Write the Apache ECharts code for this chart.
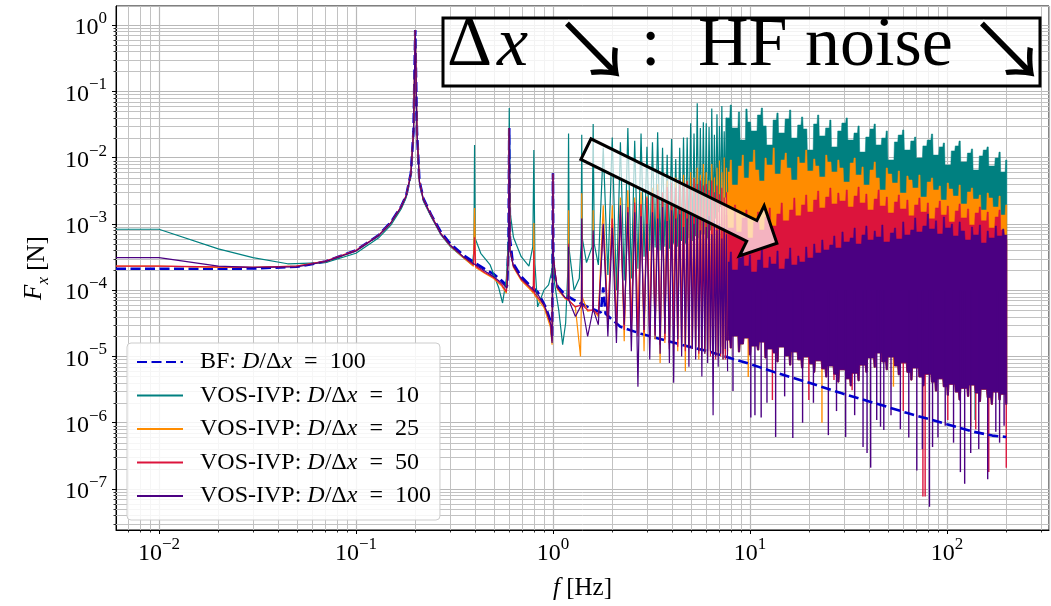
<!DOCTYPE html>
<html><head><meta charset="utf-8">
<script src="https://cdn.jsdelivr.net/npm/echarts@6/dist/echarts.min.js"></script>
<style>html,body{margin:0;padding:0;background:#fff}#c{width:1051px;height:606px}</style>
</head><body><div id="c"></div>
<script>
// ---------- axis ranges & ticks ----------
const X_MIN = 0.006053, X_MAX = 329.6;
const Y_MIN = 2.41e-8, Y_MAX = 1.934;
const minorMult = [2,3,4,5,6,7,8,9];
const xDecades = [0.001,0.01,0.1,1,10,100];
const yDecades = [1e-8,1e-7,1e-6,1e-5,1e-4,1e-3,1e-2,1e-1,1];

// ---------- names ----------
const names = ['BF: D/Δx = 100','VOS-IVP: D/Δx = 10','VOS-IVP: D/Δx = 25','VOS-IVP: D/Δx = 50','VOS-IVP: D/Δx = 100'];

// ---------- BF reference ----------
const bfData = [[0.006053,2.1e-4],[0.01,2.1e-4],[0.02,2.1e-4],[0.03,2.12e-4],[0.05,2.25e-4],[0.07,2.7e-4],[0.1,4e-4],[0.13,6.7e-4],[0.15,1.05e-3],[0.17,1.85e-3],[0.18,2.7e-3],[0.19,5.8e-3],[0.196,2.5e-2],[0.2,0.84],[0.204,2.5e-2],[0.21,4.4e-3],[0.22,2.4e-3],[0.24,1.4e-3],[0.27,7.5e-4],[0.3,5.1e-4],[0.35,3.4e-4],[0.4,2.6e-4],[0.45,2.1e-4],[0.5,1.75e-4],[0.555,1.35e-4],[0.585,1.15e-4],[0.595,5e-4],[0.6,0.028],[0.605,6e-4],[0.625,2.6e-4],[0.69,1.6e-4],[0.76,1.2e-4],[0.836,9.4e-5],[0.92,5.5e-5],[0.977,3.2e-5],[0.99,1.9e-5],[0.996,3e-4],[1.0,5.8e-3],[1.004,3e-4],[1.02,1.6e-4],[1.056,1.13e-4],[1.15,8.6e-5],[1.28,7.1e-5],[1.5,5.6e-5],[1.75,4.6e-5],[1.8,1.1e-4],[1.85,4.4e-5],[2.2,2.8e-5],[2.8,2.2e-5],[4.5,1.5e-5],[6.1,1.2e-5],[10,7.7e-6],[13.3,5.8e-6],[20,4e-6],[29,2.8e-6],[45,1.9e-6],[63,1.4e-6],[100,9.5e-7],[137,7.3e-7],[170,6.4e-7],[200,6.1e-7]];

// ---------- VOS-IVP low-frequency parts ----------
const tealLow = [[0.006053,8.3e-4],[0.01,8.3e-4],[0.02,4.2e-4],[0.03,3.1e-4],[0.045,2.5e-4],[0.07,2.6e-4],[0.1,3.6e-4],[0.13,6.1e-4],[0.15,9.5e-4],[0.17,1.7e-3],[0.18,2.5e-3],[0.19,5.4e-3],[0.196,2.4e-2],[0.2,0.8],[0.204,2.4e-2],[0.21,4.2e-3],[0.22,2.2e-3],[0.24,1.3e-3],[0.27,6.8e-4],[0.3,4.6e-4],[0.35,3.1e-4],[0.39,2.4e-4],[0.397,4e-4],[0.4,1.55e-2],[0.403,6e-4],[0.43,3.6e-4],[0.48,2.4e-4],[0.53,1.1e-4],[0.555,6.4e-5],[0.58,1.5e-4],[0.594,6e-4],[0.6,0.056],[0.606,1.5e-3],[0.63,6.3e-4],[0.69,3.2e-4],[0.755,2.3e-4],[0.79,4.5e-4],[0.8,1.3e-2],[0.81,2.5e-4],[0.836,5.6e-5],[0.9,1e-4],[0.95,1.2e-4],[0.99,2e-4],[1.0,1.5e-3],[1.01,1.5e-4],[1.07,5e-5],[1.12,1.5e-5],[1.16,3.2e-5],[1.19,2e-4],[1.2,2.3e-2],[1.21,4e-4],[1.28,1e-4],[1.36,1.5e-4],[1.39,5e-4],[1.4,2.2e-2],[1.41,6e-4],[1.48,2.6e-4],[1.58,4.5e-4],[1.6,3.2e-2],[1.62,5e-4],[1.7,2.4e-4]];
const orangeLow = [[0.006053,2.3e-4],[0.01,2.3e-4],[0.02,2.2e-4],[0.03,2.2e-4],[0.05,2.3e-4],[0.07,2.7e-4],[0.1,3.9e-4],[0.13,6.6e-4],[0.15,1.02e-3],[0.17,1.8e-3],[0.18,2.65e-3],[0.19,5.6e-3],[0.196,2.5e-2],[0.2,0.82],[0.204,2.5e-2],[0.21,4.3e-3],[0.22,2.3e-3],[0.24,1.35e-3],[0.27,7e-4],[0.3,4.7e-4],[0.35,3.1e-4],[0.395,2.3e-4],[0.4,1.73e-3],[0.405,2.2e-4],[0.45,1.8e-4],[0.5,1.5e-4],[0.55,1.15e-4],[0.58,9e-5],[0.595,4e-4],[0.6,0.028],[0.605,4e-4],[0.63,2.2e-4],[0.69,1.4e-4],[0.76,1.05e-4],[0.795,9e-5],[0.8,1.03e-3],[0.805,8.5e-5],[0.9,5.5e-5],[0.97,2.8e-5],[0.99,1.5e-5],[0.996,3e-4],[1.0,5.6e-3],[1.005,3e-4],[1.05,1.05e-4],[1.15,7.5e-5],[1.195,7e-5],[1.2,1.6e-3],[1.205,7e-5],[1.3,5.5e-5],[1.38,1e-5],[1.395,8e-5],[1.4,2.9e-3],[1.405,8e-5],[1.5,4.8e-5],[1.595,5e-5],[1.6,1.6e-3],[1.605,5e-5],[1.7,4e-5]];
const redLow = [[0.006053,2.3e-4],[0.01,2.3e-4],[0.02,2.25e-4],[0.03,2.2e-4],[0.05,2.3e-4],[0.07,2.75e-4],[0.1,4e-4],[0.13,6.7e-4],[0.15,1.03e-3],[0.17,1.85e-3],[0.18,2.7e-3],[0.19,5.7e-3],[0.196,2.5e-2],[0.2,0.83],[0.204,2.5e-2],[0.21,4.4e-3],[0.22,2.35e-3],[0.24,1.4e-3],[0.27,7.1e-4],[0.3,4.8e-4],[0.35,3.2e-4],[0.395,2.4e-4],[0.4,6.3e-4],[0.405,2.3e-4],[0.45,1.85e-4],[0.5,1.55e-4],[0.55,1.2e-4],[0.58,9.5e-5],[0.595,4e-4],[0.6,0.028],[0.605,4e-4],[0.63,2.3e-4],[0.69,1.45e-4],[0.76,1.1e-4],[0.795,9.5e-5],[0.8,4e-4],[0.805,9e-5],[0.9,6e-5],[0.97,3.2e-5],[0.99,1.7e-5],[0.996,3e-4],[1.0,5.6e-3],[1.005,3e-4],[1.05,1.1e-4],[1.15,7.8e-5],[1.195,7e-5],[1.2,5e-4],[1.205,7e-5],[1.3,5.6e-5],[1.395,6e-5],[1.4,1e-3],[1.405,6e-5],[1.5,5e-5],[1.595,5e-5],[1.6,7e-4],[1.605,5e-5],[1.7,4.3e-5]];
const purpleLow = [[0.006053,3.1e-4],[0.01,3.1e-4],[0.02,2.3e-4],[0.03,2.2e-4],[0.05,2.25e-4],[0.07,2.7e-4],[0.1,3.9e-4],[0.13,6.6e-4],[0.15,1.02e-3],[0.17,1.8e-3],[0.18,2.65e-3],[0.19,5.6e-3],[0.196,2.5e-2],[0.2,0.82],[0.204,2.5e-2],[0.21,4.3e-3],[0.22,2.3e-3],[0.24,1.35e-3],[0.27,7e-4],[0.3,4.8e-4],[0.35,3.2e-4],[0.4,2.45e-4],[0.45,1.95e-4],[0.5,1.6e-4],[0.555,1.25e-4],[0.585,1.08e-4],[0.595,4e-4],[0.6,0.028],[0.605,4e-4],[0.63,2.3e-4],[0.69,1.5e-4],[0.76,1.15e-4],[0.836,8.8e-5],[0.92,5.2e-5],[0.977,3e-5],[0.99,1.6e-5],[0.996,3e-4],[1.0,5.8e-3],[1.004,3e-4],[1.05,1.1e-4],[1.15,7.8e-5],[1.195,7.5e-5],[1.2,4.5e-4],[1.205,7e-5],[1.3,4e-5],[1.395,6e-5],[1.4,1.2e-3],[1.405,6e-5],[1.5,2e-5],[1.595,5e-5],[1.6,8e-4],[1.605,5e-5],[1.7,3e-5]];

// ---------- harmonic spikes 1.8 - 7.6 Hz ----------
const harmF   = [1.8,2.0,2.2,2.4,2.6,2.8,3.0,3.2,3.4,3.6,3.8,4.0,4.2,4.4,4.6,4.8,5.0,5.2,5.4,5.6,5.8,6.0,6.2,6.4,6.6,6.8,7.0,7.2,7.4,7.6];
const troughF = [1.9,2.1,2.3,2.5,2.7,2.9,3.1,3.3,3.5,3.7,3.9,4.1,4.3,4.5,4.7,4.9,5.1,5.3,5.5,5.7,5.9,6.1,6.3,6.5,6.7,6.9,7.1,7.3,7.5,7.7];
const tealPk   = [1.4e-2,2e-2,1.7e-2,2.8e-2,1.8e-2,2.3e-2,1.45e-2,1.7e-2,2.4e-2,1.4e-2,1.1e-2,1.9e-2,9.5e-3,1.4e-2,2e-2,2e-2,3.3e-2,2.3e-2,6.6e-2,2.8e-2,3.4e-2,3.3e-2,2.9e-2,5.5e-2,2.2e-2,4.5e-2,3e-2,6e-2,2.5e-2,4e-2];
const tealTr   = [1.7e-4,1e-4,1.4e-4,1.5e-4,2.1e-4,3.2e-4,3.9e-4,4.4e-4,4e-4,4.5e-4,4.2e-4,5e-4,4.5e-4,5.5e-4,5e-4,6e-4,5.5e-4,6.5e-4,6e-4,7e-4,7e-4,6e-4,8e-4,1e-3,1.2e-3,1.5e-3,1.8e-3,2e-3,2.5e-3,3e-3];
const orangePk = [1.9e-3,1.9e-3,2.5e-3,3.2e-3,2.5e-3,3e-3,2.6e-3,3.5e-3,4e-3,3e-3,4.5e-3,3.5e-3,5e-3,4e-3,5.5e-3,4.5e-3,6e-3,5e-3,7e-3,5.5e-3,8e-3,6e-3,4.5e-3,8e-3,5e-3,7e-3,9e-3,6e-3,1e-2,7e-3];
const orangeTr = [3e-5,2.8e-5,1.7e-5,2.5e-5,2.2e-5,1.2e-5,2e-5,1.8e-5,8e-6,1.6e-5,1.5e-5,2e-5,1.2e-5,1.5e-5,6e-6,1.4e-5,1.3e-5,1.2e-5,9e-6,1.2e-5,1.1e-5,1e-5,1.3e-5,8e-6,1.2e-5,1e-5,1.4e-5,9e-6,1.2e-5,1.1e-5];
const redPk    = [9e-4,1.2e-3,1.4e-3,1.8e-3,2.1e-3,2e-3,2.5e-3,2.8e-3,3.2e-3,3e-3,3.6e-3,4.2e-3,3.5e-3,4.6e-3,3.8e-3,4.4e-3,3.6e-3,4.8e-3,4e-3,4.5e-3,3.8e-3,4e-3,3.2e-3,4.5e-3,3e-3,3.8e-3,2.8e-3,3.5e-3,2.5e-3,3e-3];
const redTr    = [3.5e-5,3e-5,2.5e-5,2.8e-5,2e-5,2.3e-5,1.8e-5,2.1e-5,1.5e-5,1.8e-5,1.3e-5,1.7e-5,1.4e-5,1.6e-5,1.2e-5,1.5e-5,1.3e-5,1.4e-5,1.1e-5,1.3e-5,1.2e-5,1.2e-5,1e-5,1.3e-5,9e-6,1.2e-5,1e-5,1.1e-5,9e-6,1.2e-5];
const purplePk = [1e-3,8.7e-4,1.9e-3,1.5e-3,1.5e-3,1.3e-3,1e-3,1.5e-3,1.2e-3,1.8e-3,1.1e-3,1.6e-3,1.2e-3,1.4e-3,9e-4,1.2e-3,1.4e-3,1e-3,1.3e-3,8e-4,1.1e-3,9e-4,1.3e-3,7e-4,1.1e-3,8e-4,1e-3,6e-4,9e-4,7e-4];
const purpleTr = [2e-5,1.6e-5,3e-5,1.2e-5,3.5e-6,2.5e-5,9e-6,2e-5,1.1e-5,2.2e-5,8e-6,4e-6,1.8e-5,1e-5,1.5e-5,7e-6,1.3e-5,9e-6,1.2e-5,5e-6,1.1e-5,8e-6,1.2e-5,1.3e-6,1e-5,7e-6,1.1e-5,9e-6,1.3e-5,6e-6];

// ---------- broadband noise 7.6 - 200 Hz (upper envelopes & common lower edge) ----------
const noiseF = [7.6,8.0,8.4,8.8,9.2,9.6,10,10.5,11,11.5,12,12.6,13.2,13.8,14.5,15.2,16,16.8,17.6,18.4,19.3,20.2,21.2,22.2,23.3,24.4,25.6,26.8,28.1,29.5,31,32.5,34,35.6,37.3,39,41,43,45,47,49.5,52,54.5,57,60,63,66,69,72.5,76,80,84,88,92,96.5,101,106,111,116,122,128,134,140,147,154,161,169,177,185,193,200];
const tealHi = [0.0396,0.0621,0.0280,0.0487,0.0184,0.0541,0.0344,0.0252,0.0439,0.0560,0.0300,0.0155,0.0369,0.0471,0.0235,0.0382,0.0522,0.0197,0.0310,0.0410,0.0270,0.0130,0.0321,0.0439,0.0212,0.0280,0.0369,0.0145,0.0252,0.0332,0.0396,0.0184,0.0235,0.0300,0.0121,0.0204,0.0270,0.0321,0.0155,0.0197,0.0252,0.00920,0.0172,0.0219,0.0261,0.0130,0.0178,0.0204,0.00986,0.0150,0.0184,0.0227,0.0109,0.0145,0.0166,0.00774,0.0126,0.0150,0.0178,0.00859,0.0117,0.0135,0.00650,0.0106,0.0130,0.0145,0.00747,0.00986,0.0121,0.00607,0.00920];
const orangeHi = [0.00607,0.00920,0.00386,0.00747,0.0109,0.00493,0.00859,0.0130,0.00650,0.00444,0.00986,0.00774,0.0140,0.00566,0.00920,0.0117,0.00697,0.00459,0.0102,0.00829,0.0130,0.00628,0.00953,0.00747,0.00510,0.0109,0.00859,0.00607,0.00920,0.00697,0.00428,0.00829,0.00986,0.00547,0.00722,0.00386,0.00650,0.00859,0.00493,0.00325,0.00697,0.00566,0.00414,0.00628,0.00292,0.00528,0.00459,0.00348,0.00547,0.00254,0.00428,0.00493,0.00325,0.00373,0.00229,0.00414,0.00336,0.00263,0.00386,0.00200,0.00303,0.00348,0.00237,0.00273,0.00162,0.00292,0.00246,0.00180,0.00263,0.00136,0.00193];
const redHi = [0.00136,0.000867,0.00193,0.000755,0.00123,0.00162,0.000613,0.00107,0.00151,0.000809,0.00127,0.00174,0.000929,0.00141,0.00207,0.00111,0.00162,0.00246,0.00132,0.00193,0.00273,0.00151,0.00229,0.00313,0.00174,0.00254,0.00348,0.00200,0.00292,0.00221,0.00325,0.00180,0.00263,0.00360,0.00207,0.00282,0.00162,0.00237,0.00325,0.00186,0.00254,0.00146,0.00214,0.00273,0.00168,0.00229,0.00132,0.00193,0.00246,0.00151,0.00207,0.00119,0.00174,0.00221,0.00136,0.00186,0.00107,0.00157,0.00200,0.00123,0.00168,0.000962,0.00146,0.00180,0.00111,0.00151,0.000867,0.00127,0.00162,0.000809,0.000571];
const purpleHi = [0.000266,0.000377,0.000202,0.000306,0.000433,0.000232,0.000340,0.000188,0.000285,0.000404,0.000216,0.000317,0.000248,0.000390,0.000209,0.000296,0.000433,0.000240,0.000328,0.000266,0.000448,0.000306,0.000497,0.000364,0.000571,0.000404,0.000480,0.000657,0.000433,0.000755,0.000533,0.000613,0.000867,0.000497,0.000680,0.000929,0.000571,0.000781,0.000634,0.000962,0.000533,0.000729,0.000867,0.000592,0.00107,0.000680,0.000809,0.00123,0.000755,0.000929,0.00141,0.000838,0.00111,0.000704,0.00127,0.000867,0.000997,0.000657,0.00107,0.000781,0.000571,0.000898,0.000680,0.000962,0.000515,0.000781,0.000613,0.000929,0.000657,0.000838,0.000680];
const noiseLo = [1.77e-5,1.34e-5,2.04e-5,1.17e-5,1.54e-5,1.90e-5,1.05e-5,1.44e-5,1.25e-5,1.65e-5,9.5e-6,1.30e-5,1.13e-5,8.3e-6,1.39e-5,1.02e-5,7.4e-6,1.17e-5,8.9e-6,6.7e-6,9.8e-6,7.7e-6,5.8e-6,8.6e-6,6.5e-6,4.9e-6,7.2e-6,5.4e-6,4.1e-6,6.3e-6,4.6e-6,3.6e-6,5.6e-6,4.3e-6,7.4e-6,5.8e-6,9.5e-6,6.9e-6,1.13e-5,8.3e-6,6.3e-6,9.8e-6,7.2e-6,5.3e-6,8.0e-6,5.8e-6,4.4e-6,6.7e-6,4.9e-6,3.6e-6,5.4e-6,4.1e-6,3.0e-6,4.6e-6,3.5e-6,2.6e-6,3.8e-6,2.9e-6,2.2e-6,3.3e-6,2.5e-6,3.7e-6,2.8e-6,2.1e-6,3.2e-6,2.4e-6,1.9e-6,2.9e-6,2.2e-6,2.7e-6,1.9e-6];
// deep downward spikes [f, value]
const tealDips = [[139,1.1e-6]];
const orangeDips = [[9.8,4.9e-6],[23.2,1e-6],[53.5,3.5e-6],[132,8.7e-7]];
const redDips = [[13,2.2e-6],[19.9,2.2e-6],[26.7,4.4e-6],[33,3.1e-6],[60,1.5e-6],[75.5,7.7e-8],[77.5,7.7e-8],[101,1.1e-6],[140,8e-7],[163,1.8e-7],[200,2.1e-7]];
const purpleDips = [[8.2,3e-6],[10.1,1.2e-6],[10.6,1.3e-6],[11.4,1.2e-6],[12.2,2e-6],[13.5,6.1e-7],[15,2.5e-6],[16.5,5.9e-7],[18.5,1e-6],[21,2e-6],[25,6.5e-7],[27.5,1.5e-6],[30.6,6.1e-7],[34,1.3e-6],[37.5,4.3e-7],[39.3,3.5e-7],[41,2.1e-7],[44,1.1e-6],[46,8.7e-7],[47.8,7.8e-7],[52,1.3e-6],[58,8e-7],[64,6e-7],[70.3,1.9e-7],[75,4e-7],[81.5,5.4e-8],[84.5,4.3e-7],[90,6e-7],[98,9e-7],[108,5e-7],[117,1.8e-7],[123,1.2e-7],[132,3.5e-7],[145,4e-7],[161,1.4e-7],[177,7.3e-7],[185,5e-7],[195,9e-7]];

// ---------- annotation anchors (data coords) ----------
const arrowTail = [1.47, 0.0134];
const arrowTip = [13.7, 5.1e-4];

// ---------- styles ----------
const COL = {bf:'#0000cd', teal:'#008080', orange:'#ff8c00', red:'#dc143c', purple:'#4b0082'};
const SERIF = '"Liberation Serif", "DejaVu Serif", serif';

function buildLine(low, pk, tr) {
  const d = low.slice();
  for (let k = 0; k < harmF.length; k++) { d.push([harmF[k], pk[k]]); d.push([troughF[k], tr[k]]); }
  return d;
}

function lineSeries(name, data, color) {
  return {type:'line', name, data, symbol:'none', showSymbol:false, smooth:false, silent:true,
    lineStyle:{color, width:1.2}, itemStyle:{color}, emphasis:{disabled:true}, animation:false, z:2};
}

// spiky edge: each value is drawn as a narrow needle, neighbours joined at the lower (or upper) level
function spikyEdge(api, vals, pointsDown) {
  const P = noiseF.map((f, i) => api.coord([f, vals[i]]));
  const out = [];
  for (let i = 0; i < P.length; i++) {
    const x = P[i][0], y = P[i][1];
    out.push([x - 0.6, y], [x + 0.6, y]);
    if (i < P.length - 1) {
      const x2 = P[i + 1][0], y2 = P[i + 1][1];
      const lvl = pointsDown ? Math.min(y, y2) : Math.max(y, y2);
      out.push([x + 1.1, lvl], [x2 - 1.1, lvl]);
    }
  }
  return out;
}

function bandSeries(id, hi, dips, color) {
  return {type:'custom', name:id, silent:true, animation:false, z:2,
    data:[[10, 1e-3]],
    renderItem(params, api) {
      const top = spikyEdge(api, hi, false);
      const bottom = spikyEdge(api, noiseLo, true).reverse();
      const ch = [{type:'polygon', shape:{points:top.concat(bottom)}, style:{fill:color, stroke:color, lineWidth:0.5}}];
      dips.forEach(d => {
        const a = api.coord([d[0], 1e-4]), b = api.coord([d[0], d[1]]);
        ch.push({type:'line', shape:{x1:a[0], y1:a[1], x2:b[0], y2:b[1]}, style:{stroke:color, lineWidth:1.4}});
      });
      return {type:'group', children:ch};
    }};
}

function renderMinor(params, api) {
  const cs = params.coordSys;
  const ch = [];
  const gs = {stroke:'#c2c2c2', lineWidth:1};
  const ts = {stroke:'#000', lineWidth:0.8};
  xDecades.forEach(d => minorMult.forEach(m => {
    const v = m * d; if (v <= X_MIN || v >= X_MAX) return;
    const X = Math.round(api.coord([v, 1])[0]) + 0.5;
    ch.push({type:'line', shape:{x1:X, y1:cs.y, x2:X, y2:cs.y + cs.height}, style:gs});
    ch.push({type:'line', shape:{x1:X, y1:cs.y + cs.height, x2:X, y2:cs.y + cs.height + 2.5}, style:ts});
  }));
  yDecades.forEach(d => minorMult.forEach(m => {
    const v = m * d; if (v <= Y_MIN || v >= Y_MAX) return;
    const Y = Math.round(api.coord([1, v])[1]) + 0.5;
    ch.push({type:'line', shape:{x1:cs.x, y1:Y, x2:cs.x + cs.width, y2:Y}, style:gs});
    ch.push({type:'line', shape:{x1:cs.x - 2.5, y1:Y, x2:cs.x, y2:Y}, style:ts});
  }));
  return {type:'group', children:ch};
}

function powLabel(v) {
  const e = Math.round(Math.log10(v));
  return '{b|10}{s|' + (e < 0 ? '\u2212' + (-e) : e) + '}';
}
const labelRich = {
  b:{fontFamily:SERIF, fontSize:24, color:'#000', lineHeight:30, verticalAlign:'bottom'},
  s:{fontFamily:SERIF, fontSize:17, color:'#000', lineHeight:17, verticalAlign:'top'}
};

const chart = echarts.init(document.getElementById('c'), null, {renderer:'canvas', width:1051, height:606});

const arrowGlyph = {font:'80px "Noto Sans CJK JP"', fill:'#000', stroke:'#ffffff', lineWidth:3, verticalAlign:'middle'};

const option = {
  animation:false,
  backgroundColor:'#ffffff',
  grid:{left:116, right:2, top:6, bottom:76, show:true, borderColor:'#000', borderWidth:1, backgroundColor:'transparent', containLabel:false, outerBoundsMode:'none'},
  xAxis:{type:'log', logBase:10, min:X_MIN, max:X_MAX,
    name:'{i|f} [Hz]', nameLocation:'middle', nameGap:46,
    nameTextStyle:{fontFamily:SERIF, fontSize:25, color:'#000', rich:{i:{fontFamily:SERIF, fontStyle:'italic', fontSize:25, color:'#000'}}},
    axisLine:{show:true, lineStyle:{color:'#000', width:1}},
    axisTick:{show:true, inside:false, length:4, lineStyle:{color:'#000', width:1}},
    axisLabel:{show:true, margin:6, showMinLabel:false, showMaxLabel:false, formatter:powLabel, rich:labelRich},
    splitLine:{show:true, lineStyle:{color:'#b8b8b8', width:1.2}},
    minorTick:{show:false}, minorSplitLine:{show:false}},
  yAxis:{type:'log', logBase:10, min:Y_MIN, max:Y_MAX,
    name:'{i|F}{sub|x} [N]', nameLocation:'middle', nameGap:64, nameRotate:90,
    nameTextStyle:{fontFamily:SERIF, fontSize:25, color:'#000', rich:{
      i:{fontFamily:SERIF, fontStyle:'italic', fontSize:25, color:'#000', lineHeight:30, verticalAlign:'top'},
      sub:{fontFamily:SERIF, fontStyle:'italic', fontSize:17, color:'#000', lineHeight:17, verticalAlign:'bottom'}}},
    axisLine:{show:true, lineStyle:{color:'#000', width:1}},
    axisTick:{show:true, inside:false, length:4, lineStyle:{color:'#000', width:1}},
    axisLabel:{show:true, margin:9, showMinLabel:false, showMaxLabel:false, formatter:powLabel, rich:labelRich},
    splitLine:{show:true, lineStyle:{color:'#b8b8b8', width:1.2}},
    minorTick:{show:false}, minorSplitLine:{show:false}},
  legend:{data:names, orient:'vertical', left:127, top:343, padding:[7,9,12,9],
    itemWidth:46, itemHeight:14, itemGap:9.5, selectedMode:false,
    itemStyle:{opacity:0, borderWidth:0},
    backgroundColor:'rgba(255,255,255,0.85)', borderColor:'#cccccc', borderWidth:1, borderRadius:4,
    textStyle:{fontFamily:SERIF, fontSize:24, color:'#000', lineHeight:24, padding:[0,0,0,12],
      rich:{i:{fontFamily:SERIF, fontStyle:'italic', fontSize:24, color:'#000', lineHeight:24}}},
    formatter:n => n.replace('D/Δx = ', '{i|D}/Δ{i|x}\u2002=\u2002')},
  tooltip:{show:false},
  series:[
    {type:'custom', name:'minorGrid', silent:true, z:1, data:[[1,1]], renderItem:renderMinor, animation:false},
    {type:'line', name:names[0], data:bfData, symbol:'none', showSymbol:false, silent:true,
      lineStyle:{color:COL.bf, width:2.6, type:[10,4.5]}, itemStyle:{color:COL.bf}, animation:false, z:2},
    lineSeries(names[1], buildLine(tealLow, tealPk, tealTr), COL.teal),
    bandSeries('tealBand', tealHi, tealDips, COL.teal),
    lineSeries(names[2], buildLine(orangeLow, orangePk, orangeTr), COL.orange),
    bandSeries('orangeBand', orangeHi, orangeDips, COL.orange),
    lineSeries(names[3], buildLine(redLow, redPk, redTr), COL.red),
    bandSeries('redBand', redHi, redDips, COL.red),
    lineSeries(names[4], buildLine(purpleLow, purplePk, purpleTr), COL.purple),
    bandSeries('purpleBand', purpleHi, purpleDips, COL.purple)
  ],
  graphic:[
    {type:'rect', id:'box', z:100, shape:{x:443, y:18, width:597, height:68}, style:{fill:'rgba(255,255,255,0.8)', stroke:'#000', lineWidth:3}},
    {type:'text', id:'t1', z:101, x:447, y:47, style:{text:'Δ', font:'70px ' + SERIF, fill:'#000', verticalAlign:'middle'}},
    {type:'text', id:'t2', z:101, x:497, y:47, style:{text:'x', font:'italic 70px ' + SERIF, fill:'#000', verticalAlign:'middle'}},
    {type:'text', id:'t3', z:101, x:553, y:50, style:Object.assign({text:'↘'}, arrowGlyph)},
    {type:'text', id:'t4', z:101, x:641, y:47, style:{text:':', font:'70px ' + SERIF, fill:'#000', verticalAlign:'middle'}},
    {type:'text', id:'t5', z:101, x:698, y:47, style:{text:'HF noise', font:'70px ' + SERIF, fill:'#000', verticalAlign:'middle'}},
    {type:'text', id:'t6', z:101, x:968, y:50, style:Object.assign({text:'↘'}, arrowGlyph)}
  ]
};
chart.setOption(option);

// big annotation arrow, anchored in data coordinates
(function () {
  const t = chart.convertToPixel({xAxisIndex:0, yAxisIndex:0}, arrowTail);
  const h = chart.convertToPixel({xAxisIndex:0, yAxisIndex:0}, arrowTip);
  const dx = h[0] - t[0], dy = h[1] - t[1], L = Math.hypot(dx, dy);
  const ux = dx / L, uy = dy / L, px = -uy, py = ux;
  const sw = 11.5, hw = 28, hl = 28;
  const bx = h[0] - ux * hl, by = h[1] - uy * hl;
  const pts = [[t[0] + px * sw, t[1] + py * sw], [bx + px * sw, by + py * sw], [bx + px * hw, by + py * hw], [h[0], h[1]],
               [bx - px * hw, by - py * hw], [bx - px * sw, by - py * sw], [t[0] - px * sw, t[1] - py * sw]];
  chart.setOption({graphic:[{type:'polygon', id:'bigArrow', z:90, shape:{points:pts},
    style:{fill:'rgba(255,255,255,0.68)', stroke:'#000', lineWidth:3, lineJoin:'miter'}}]});
})();
</script></body></html>
